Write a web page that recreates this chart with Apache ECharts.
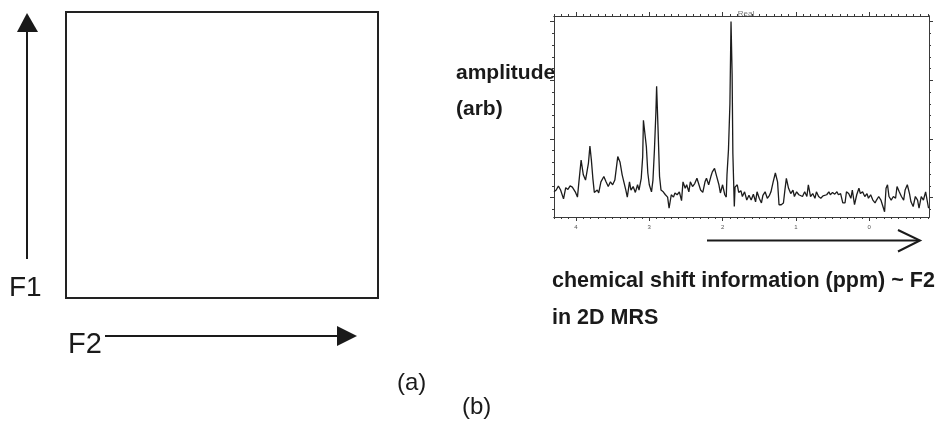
<!DOCTYPE html>
<html>
<head>
<meta charset="utf-8">
<title>2D MRS</title>
<script src="https://cdn.jsdelivr.net/npm/echarts@6/dist/echarts.min.js"></script>
<style>
  html, body { margin: 0; padding: 0; background: #fff; }
  #chart { width: 943px; height: 423px; }
</style>
</head>
<body>
<div id="chart"></div>
<script>
  // spectrum: chemical shift (ppm) and amplitude (arb)
  const ppmShift = [
    4.30, 4.27, 4.24, 4.21, 4.17, 4.14, 4.11, 4.08, 4.05, 4.01,
    3.98, 3.96, 3.93, 3.90, 3.87, 3.85, 3.83, 3.81, 3.79, 3.77,
    3.75, 3.71, 3.69, 3.66, 3.62, 3.59, 3.56, 3.53, 3.50, 3.47,
    3.45, 3.43, 3.40, 3.37, 3.35, 3.32, 3.30, 3.27, 3.25, 3.22,
    3.19, 3.16, 3.14, 3.11, 3.09, 3.08, 3.06, 3.04, 3.02, 3.00,
    2.97, 2.95, 2.93, 2.91, 2.90, 2.88, 2.86, 2.84, 2.81, 2.78,
    2.75, 2.73, 2.70, 2.67, 2.65, 2.62, 2.59, 2.56, 2.54, 2.51,
    2.49, 2.46, 2.44, 2.41, 2.38, 2.35, 2.33, 2.30, 2.27, 2.24,
    2.22, 2.19, 2.16, 2.14, 2.11, 2.08, 2.05, 2.03, 2.00, 1.97,
    1.95, 1.94, 1.92, 1.90, 1.885, 1.87, 1.86, 1.84, 1.83, 1.80,
    1.78, 1.75, 1.73, 1.70, 1.67, 1.64, 1.61, 1.58, 1.55, 1.53,
    1.50, 1.47, 1.45, 1.42, 1.39, 1.36, 1.34, 1.31, 1.28, 1.25,
    1.23, 1.20, 1.17, 1.15, 1.13, 1.10, 1.07, 1.04, 1.02, 0.99,
    0.96, 0.94, 0.91, 0.88, 0.85, 0.83, 0.80, 0.77, 0.74, 0.72,
    0.69, 0.66, 0.63, 0.61, 0.58, 0.55, 0.53, 0.50, 0.47, 0.44,
    0.42, 0.39, 0.36, 0.33, 0.31, 0.28, 0.25, 0.23, 0.20, 0.17,
    0.14, 0.12, 0.09, 0.06, 0.03, 0.01, -0.02, -0.05, -0.08, -0.10,
    -0.13, -0.16, -0.18, -0.21, -0.23, -0.25, -0.27, -0.30, -0.33, -0.36,
    -0.38, -0.41, -0.44, -0.47, -0.49, -0.52, -0.55, -0.57, -0.60, -0.63,
    -0.66, -0.68, -0.71, -0.74, -0.77, -0.78, -0.81
  ];
  const amplitude = [
    0.10, 0.13, 0.20, 0.13, -0.02, 0.17, 0.14, 0.20, 0.18, 0.10,
    0.01, 0.27, 0.64, 0.39, 0.30, 0.33, 0.59, 0.88, 0.64, 0.33,
    0.09, 0.13, 0.08, 0.27, 0.36, 0.27, 0.19, 0.27, 0.22, 0.30,
    0.50, 0.70, 0.61, 0.39, 0.41, 0.13, 0.01, 0.27, 0.13, 0.19,
    0.09, 0.22, 0.13, 0.33, 0.70, 1.32, 1.29, 0.87, 0.42, 0.22,
    0.10, 0.30, 0.81, 1.45, 1.90, 1.15, 0.36, 0.13, 0.10, 0.05,
    0.01, -0.18, 0.05, 0.01, 0.08, 0.05, 0.10, -0.05, 0.27, 0.16,
    0.22, 0.10, 0.27, 0.19, 0.24, 0.33, 0.36, 0.13, 0.09, 0.27,
    0.33, 0.22, 0.36, 0.44, 0.50, 0.36, 0.22, 0.08, 0.22, 0.05,
    0.01, 0.39, 0.81, 1.60, 3.00, 2.10, 0.76, -0.15, 0.18, 0.22,
    0.09, 0.12, 0.02, 0.10, -0.04, 0.04, -0.04, 0.06, -0.07, 0.10,
    -0.01, -0.09, 0.04, 0.10, -0.01, 0.04, 0.10, 0.27, 0.42, 0.27,
    -0.12, -0.12, -0.09, 0.13, 0.33, 0.16, 0.07, 0.13, 0.02, 0.10,
    0.05, 0.07, 0.02, 0.10, 0.02, 0.22, 0.02, 0.07, -0.01, 0.10,
    0.02, -0.01, 0.03, 0.01, 0.05, 0.10, 0.05, 0.09, 0.06, 0.10,
    0.05, 0.07, -0.09, -0.09, 0.10, 0.07, -0.01, 0.13, -0.12, 0.05,
    0.16, 0.07, 0.10, 0.02, 0.07, -0.01, 0.05, -0.04, -0.09, -0.04,
    0.02, -0.04, -0.12, -0.24, 0.16, 0.22, 0.02, -0.04, 0.02, -0.01,
    0.19, 0.10, 0.02, -0.04, 0.13, 0.22, 0.07, -0.07, -0.15, 0.02,
    -0.04, -0.18, 0.02, -0.04, 0.10, 0.13, -0.18
  ];
  const ppmMajor = [4, 3, 2, 1, 0];
  const ppmLabels = ['4', '3', '2', '1', '0'];
  const ampMajor = [0, 1, 2, 3];

  const ppmRange = [-0.816, 4.30];
  const ampRange = [-0.329, 3.095];

  // minor tick positions
  const ppmMinor = [];
  for (let i = -8; i <= 43; i++) ppmMinor.push(+(i / 10).toFixed(1));
  const ampMinor = [];
  for (let i = -1; i <= 15; i++) ampMinor.push(+(i / 5).toFixed(1));

  const spectrum = ppmShift.map((p, i) => [p, amplitude[i]]);

  const FONT = '"Liberation Sans", Arial, Helvetica, sans-serif';
  const INK = '#1a1a1a';
  const FRAME = '#3a3a3a';

  const chart = echarts.init(document.getElementById('chart'), null, { renderer: 'canvas' });

  function ppmAxis(pos, ticks, len, labels) {
    return {
      type: 'value',
      gridIndex: 0,
      position: pos,
      inverse: true,
      min: ppmRange[0],
      max: ppmRange[1],
      axisLine: { show: true, onZero: false, lineStyle: { color: FRAME, width: 1 } },
      axisTick: { show: true, customValues: ticks, length: len, lineStyle: { color: FRAME, width: 1 } },
      axisLabel: labels ? {
        show: true,
        customValues: ppmMajor,
        formatter: v => ppmLabels[ppmMajor.indexOf(Math.round(v))] || '',
        fontSize: 6,
        color: '#555',
        margin: 7,
        fontFamily: FONT
      } : { show: false },
      splitLine: { show: false }
    };
  }

  function ampAxis(pos, ticks, len) {
    return {
      type: 'value',
      gridIndex: 0,
      position: pos,
      min: ampRange[0],
      max: ampRange[1],
      axisLine: { show: true, onZero: false, lineStyle: { color: FRAME, width: 1 } },
      axisTick: { show: true, customValues: ticks, length: len, lineStyle: { color: FRAME, width: 1 } },
      axisLabel: { show: false },
      splitLine: { show: false }
    };
  }

  const txt = (text, x, y, size, bold) => ({
    type: 'text',
    style: {
      text: text, x: x, y: y,
      font: (bold ? 'bold ' : '') + size + 'px ' + FONT,
      fill: INK,
      textVerticalAlign: 'top'
    }
  });

  const option = {
    backgroundColor: '#fff',
    animation: false,
    title: {
      text: 'Real',
      left: 741,
      top: 5,
      textAlign: 'center',
      textStyle: { fontSize: 8, fontWeight: 'normal', color: '#777', fontFamily: FONT }
    },
    grid: [
      { left: 554, top: 16, width: 375, height: 201, containLabel: false },
      { left: 66, top: 12, width: 312, height: 286, show: true, borderColor: '#222', borderWidth: 2, backgroundColor: 'transparent' }
    ],
    xAxis: [
      ppmAxis('bottom', ppmMinor, 2, false),
      ppmAxis('bottom', ppmMajor, 4, true),
      ppmAxis('top', ppmMinor, 2, false),
      ppmAxis('top', ppmMajor, 4, false),
      { type: 'value', gridIndex: 1, show: false, min: 0, max: 1 }
    ],
    yAxis: [
      ampAxis('left', ampMinor, 2),
      ampAxis('left', ampMajor, 4),
      ampAxis('right', ampMinor, 2),
      ampAxis('right', ampMajor, 4),
      { type: 'value', gridIndex: 1, show: false, min: 0, max: 1 }
    ],
    series: [{
      name: 'Real',
      type: 'line',
      xAxisIndex: 0,
      yAxisIndex: 0,
      data: spectrum,
      showSymbol: false,
      symbol: 'none',
      lineStyle: { color: '#1c1c1c', width: 1.3 },
      silent: true
    }],
    graphic: [
      // F1 arrow
      { type: 'line', shape: { x1: 27, y1: 259, x2: 27, y2: 30 }, style: { stroke: INK, lineWidth: 2 } },
      { type: 'polygon', shape: { points: [[27, 13], [17, 32], [38, 32]] }, style: { fill: INK } },
      // F2 arrow
      { type: 'line', shape: { x1: 105, y1: 336, x2: 340, y2: 336 }, style: { stroke: INK, lineWidth: 2 } },
      { type: 'polygon', shape: { points: [[357, 336], [337, 326], [337, 346]] }, style: { fill: INK } },
      // arrow under the spectrum
      { type: 'line', shape: { x1: 707, y1: 240.5, x2: 919, y2: 240.5 }, style: { stroke: INK, lineWidth: 2 } },
      { type: 'polyline', shape: { points: [[898, 230], [920, 240.5], [898, 251.5]] }, style: { stroke: INK, lineWidth: 2, fill: null } },
      txt('F1', 9, 274.5, 28, false),
      txt('F2', 68, 330, 29, false),
      txt('amplitude', 456, 62.5, 21, true),
      txt('(arb)', 456, 99, 21, true),
      txt('chemical shift information (ppm) ~ F2', 552, 270, 21.5, true),
      txt('in 2D MRS', 552, 307.5, 21.5, true),
      txt('(a)', 397, 371.5, 24, false),
      txt('(b)', 462, 395, 24, false)
    ]
  };

  chart.setOption(option);
</script>
</body>
</html>
